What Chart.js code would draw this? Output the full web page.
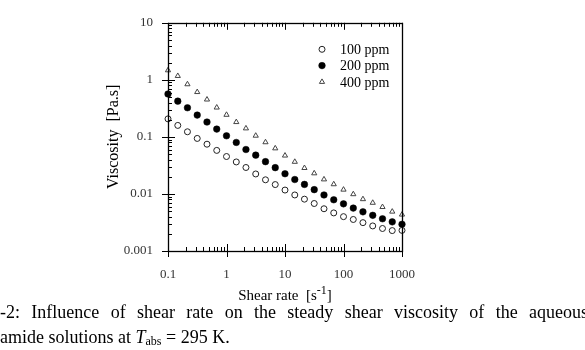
<!DOCTYPE html>
<html>
<head>
<meta charset="utf-8">
<script src="https://cdn.jsdelivr.net/npm/chart.js@4.4.0/dist/chart.umd.min.js"></script>
<style>
  html, body { margin: 0; padding: 0; background: #fff; overflow: hidden; }
  #wrap { position: relative; width: 585px; height: 350px; }
  .cap { position: absolute; left: 0; font-family: 'Liberation Serif', 'Times New Roman', serif; font-size: 18px; line-height: 20px; color: #000; }
  #cap1 { top: 302px; width: 588px; text-align: justify; text-align-last: justify; }
  #cap2 { top: 327px; white-space: nowrap; }
  #cap2 sub { font-size: 12px; vertical-align: -2px; line-height: 0; }
</style>
</head>
<body>
<div id="wrap">
  <canvas id="chart" width="585" height="350"></canvas>
  <div class="cap" id="cap1">-2: Influence of shear rate on the steady shear viscosity of the aqueous</div>
  <div class="cap" id="cap2">amide solutions at <i>T</i><sub>abs</sub> = 295 K.</div>
</div>
<script>
// values (shear rate in 1/s, viscosity in Pa.s)
const shearRate = [0.1, 0.147, 0.215, 0.316, 0.464, 0.681, 1, 1.47, 2.15, 3.16, 4.64, 6.81,
                   10, 14.7, 21.5, 31.6, 46.4, 68.1, 100, 147, 215, 316, 464, 681, 1000];
const visc100 = [0.207, 0.159, 0.123, 0.094, 0.0745, 0.058, 0.0453, 0.0364, 0.0291, 0.0224, 0.0177, 0.0146,
                 0.0117, 0.0096, 0.0081, 0.0068, 0.0055, 0.00465, 0.0040, 0.00357, 0.00314, 0.00275, 0.00248, 0.00228, 0.0023];
const visc200 = [0.565, 0.423, 0.324, 0.241, 0.182, 0.137, 0.1045, 0.080, 0.0601, 0.0479, 0.0368, 0.0289,
                 0.0226, 0.0179, 0.0147, 0.0119, 0.0096, 0.0079, 0.0067, 0.00565, 0.00486, 0.00422, 0.00367, 0.00324, 0.00294];
const visc400 = [1.47, 1.17, 0.837, 0.611, 0.452, 0.327, 0.244, 0.182, 0.141, 0.105, 0.0806, 0.063,
                 0.0471, 0.0366, 0.0285, 0.023, 0.018, 0.0148, 0.0119, 0.0099, 0.0081, 0.0070, 0.0059, 0.0049, 0.00435];
const seriesNames = ['100 ppm', '200 ppm', '400 ppm'];
const xTickLabels = ['0.1', '1', '10', '100', '1000'];
const yTickLabels = ['0.001', '0.01', '0.1', '1', '10'];

const SERIF = "'Liberation Serif', 'Times New Roman', serif";

function toPoints(ys) {
    return shearRate.map((x, i) => ({ x: x, y: ys[i] }));
}

// inward minor ticks, major ticks crossing the axis, plus the frame
const framePlugin = {
    id: 'frame',
    afterDatasetsDraw(chart) {
        const ctx = chart.ctx;
        const a = chart.chartArea;
        const xs = chart.scales.x, ys = chart.scales.y;
        ctx.save();
        ctx.strokeStyle = '#000';
        ctx.lineWidth = 1;
        ctx.beginPath();
        xTickLabels.forEach((lab) => {
            const dec = parseFloat(lab);
            for (let m = 1; m <= 9; m++) {
                const v = dec * m;
                if (v > xs.max * 1.0001) break;
                const px = Math.round(xs.getPixelForValue(v)) + 0.5;
                const len = m === 1 ? 7 : 4;
                ctx.moveTo(px, a.bottom); ctx.lineTo(px, a.bottom - len);
                ctx.moveTo(px, a.top); ctx.lineTo(px, a.top + len);
                if (m === 1) { ctx.moveTo(px, a.bottom); ctx.lineTo(px, a.bottom + 6); }
            }
        });
        yTickLabels.forEach((lab) => {
            const dec = parseFloat(lab);
            for (let m = 1; m <= 9; m++) {
                const v = dec * m;
                if (v > ys.max * 1.0001) break;
                const py = Math.round(ys.getPixelForValue(v)) + 0.5;
                const len = m === 1 ? 7 : 4;
                ctx.moveTo(a.left, py); ctx.lineTo(a.left + len, py);
                if (m === 1) { ctx.moveTo(a.left, py); ctx.lineTo(a.left - 6, py); }
            }
        });
        ctx.stroke();
        ctx.lineWidth = 1.3;
        ctx.strokeRect(Math.round(a.left) + 0.5, Math.round(a.top) + 0.5,
                       Math.round(a.right - a.left), Math.round(a.bottom - a.top));

        // x axis title with superscript
        const cx = (a.left + a.right) / 2;
        const by = 300;
        ctx.fillStyle = '#000';
        ctx.textBaseline = 'alphabetic';
        ctx.textAlign = 'left';
        const t1 = 'Shear rate  [s', t3 = ']';
        ctx.font = '12px ' + SERIF;
        const w2 = ctx.measureText('-1').width;
        ctx.font = '15px ' + SERIF;
        const w1 = ctx.measureText(t1).width, w3 = ctx.measureText(t3).width;
        let x0 = cx - (w1 + w2 + w3) / 2;
        ctx.fillText(t1, x0, by);
        ctx.font = '12px ' + SERIF;
        ctx.fillText('-1', x0 + w1, by - 6);
        ctx.font = '15px ' + SERIF;
        ctx.fillText(t3, x0 + w1 + w2, by);

        // legend inside the plot, top right
        chart.data.datasets.forEach((ds, i) => {
            const ly = a.top + 26.5 + i * 16.3;
            const lx = a.right - 80;
            ctx.fillStyle = ds.pointBackgroundColor;
            ctx.strokeStyle = ds.pointBorderColor;
            ctx.lineWidth = ds.pointBorderWidth;
            Chart.helpers.drawPoint(ctx, {
                pointStyle: ds.pointStyle, radius: ds.pointRadius,
                borderWidth: ds.pointBorderWidth, rotation: 0
            }, lx, ly);
            ctx.fillStyle = '#000';
            ctx.font = '14px ' + SERIF;
            ctx.textBaseline = 'middle';
            ctx.fillText(ds.label, a.right - 62, ly + 1);
        });
        ctx.restore();
    }
};

const ctx = document.getElementById('chart');
new Chart(ctx, {
    type: 'scatter',
    data: {
        datasets: [
            {
                label: seriesNames[0],
                data: toPoints(visc100),
                pointStyle: 'circle',
                pointRadius: 3,
                pointBackgroundColor: '#fff',
                pointBorderColor: '#222',
                pointBorderWidth: 1
            },
            {
                label: seriesNames[1],
                data: toPoints(visc200),
                pointStyle: 'circle',
                pointRadius: 3.3,
                pointBackgroundColor: '#000',
                pointBorderColor: '#000',
                pointBorderWidth: 0.5
            },
            {
                label: seriesNames[2],
                data: toPoints(visc400),
                pointStyle: 'triangle',
                pointRadius: 3,
                pointBackgroundColor: '#fff',
                pointBorderColor: '#444',
                pointBorderWidth: 1
            }
        ]
    },
    options: {
        responsive: false,
        devicePixelRatio: 1,
        animation: false,
        clip: false,
        layout: { padding: { left: 100, right: 183, top: 16, bottom: 42 } },
        plugins: {
            legend: { display: false },
            tooltip: { enabled: false }
        },
        scales: {
            x: {
                type: 'logarithmic',
                min: 0.1,
                max: 1000,
                grid: { display: false, drawTicks: false },
                border: { display: false },
                afterBuildTicks: (s) => { s.ticks = xTickLabels.map(l => ({ value: parseFloat(l) })); },
                afterFit: (s) => { s.height = 57; },
                ticks: {
                    autoSkip: false,
                    maxRotation: 0,
                    padding: 16,
                    color: '#333',
                    font: { family: SERIF, size: 13 },
                    callback: (v, i) => xTickLabels[i]
                }
            },
            y: {
                type: 'logarithmic',
                min: 0.001,
                max: 10,
                grid: { display: false, drawTicks: false },
                border: { display: false },
                afterBuildTicks: (s) => { s.ticks = yTickLabels.map(l => ({ value: parseFloat(l) })); },
                afterFit: (s) => { s.width = 68; },
                title: {
                    display: true,
                    text: 'Viscosity  [Pa.s]',
                    color: '#000',
                    font: { family: SERIF, size: 16 }
                },
                ticks: {
                    autoSkip: false,
                    padding: 15,
                    color: '#333',
                    font: { family: SERIF, size: 13 },
                    callback: (v, i) => yTickLabels[i]
                }
            }
        }
    },
    plugins: [framePlugin]
});
</script>
</body>
</html>
